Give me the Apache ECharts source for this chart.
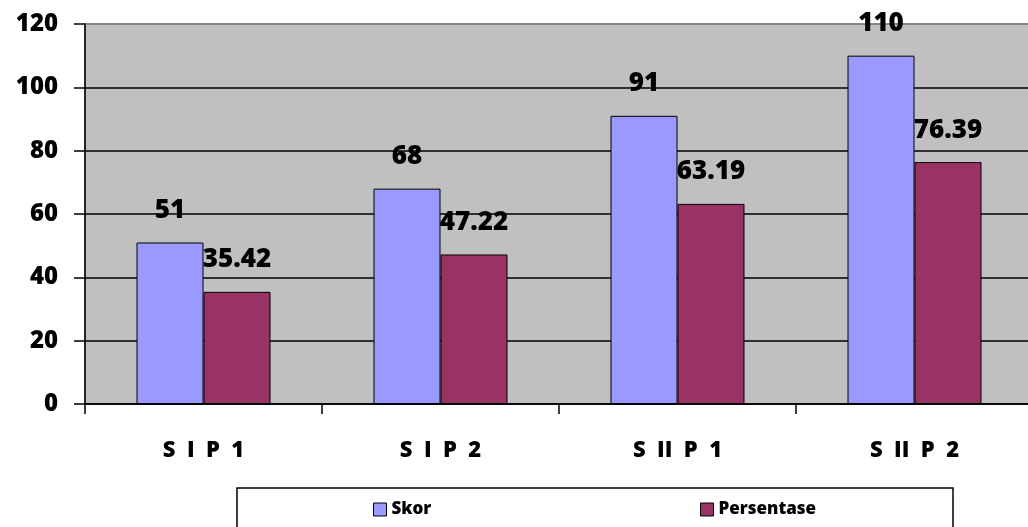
<!DOCTYPE html>
<html>
<head>
<meta charset="utf-8">
<script src="https://cdn.jsdelivr.net/npm/echarts@6/dist/echarts.min.js"></script>
<style>
html,body{margin:0;padding:0;background:#fff;}
#chart{width:1028px;height:527px;}
</style>
</head>
<body>
<div id="chart"></div>
<script>
const categories = ['S I P 1', 'S I P 2', 'S II P 1', 'S II P 2'];
const skor = [51, 68, 91, 110];
const persentase = [35.42, 47.22, 63.19, 76.39];
const seriesNames = ['Skor', 'Persentase'];
const yTicks = { min: 0, max: 120, interval: 20 };

const FONT = 'Open Sans';
const W = 800;
const chart = echarts.init(document.getElementById('chart'), null, { renderer: 'canvas' });

const labelStyle = {
  show: true,
  position: 'top',
  distance: 19,
  fontFamily: FONT,
  fontWeight: W,
  fontSize: 26,
  color: '#000'
};

chart.setOption({
  animation: false,
  backgroundColor: '#fff',
  grid: {
    left: 85, top: 24, width: 948, height: 380,
    outerBoundsMode: 'none',
    containLabel: false,
    show: true,
    backgroundColor: '#c0c0c0',
    borderColor: '#808080',
    borderWidth: 1.5
  },
  xAxis: {
    type: 'category',
    data: categories,
    axisLine: { show: true, lineStyle: { color: '#000', width: 1.5 } },
    axisTick: { show: true, length: 10, lineStyle: { color: '#000', width: 1.5 } },
    axisLabel: {
      margin: 36,
      fontFamily: FONT, fontWeight: W, fontSize: 22, color: '#000',
      formatter: function (v) { return v.split(' ').join('  '); }
    }
  },
  yAxis: {
    type: 'value',
    min: yTicks.min, max: yTicks.max, interval: yTicks.interval,
    axisLine: { show: true, lineStyle: { color: '#000', width: 1.5 } },
    axisTick: { show: true, length: 11, lineStyle: { color: '#000', width: 1.5 } },
    axisLabel: { margin: 27, fontFamily: FONT, fontWeight: W, fontSize: 24, color: '#000' },
    splitLine: { show: true, lineStyle: { color: ['#000', '#000', '#000', '#000', '#000', '#000', '#808080'], width: 1.5 } }
  },
  legend: [
    {
      data: [seriesNames[0]], left: 373, top: 501, padding: 0,
      icon: 'rect', itemWidth: 13, itemHeight: 13,
      itemStyle: { borderColor: '#000', borderWidth: 1 },
      textStyle: { fontFamily: FONT, fontWeight: W, fontSize: 17, color: '#000' }
    },
    {
      data: [seriesNames[1]], left: 700, top: 501, padding: 0,
      icon: 'rect', itemWidth: 13, itemHeight: 13,
      itemStyle: { borderColor: '#000', borderWidth: 1 },
      textStyle: { fontFamily: FONT, fontWeight: W, fontSize: 17, color: '#000' }
    }
  ],
  graphic: [{
    type: 'rect', z: -1,
    shape: { x: 237, y: 488, width: 716, height: 60 },
    style: { fill: '#fff', stroke: '#000', lineWidth: 1.5 }
  }],
  series: [
    {
      name: seriesNames[0], type: 'bar', data: skor,
      barWidth: 67, barGap: '0%',
      itemStyle: { color: '#9999ff', borderColor: '#000', borderWidth: 1 },
      label: labelStyle
    },
    {
      name: seriesNames[1], type: 'bar', data: persentase,
      barWidth: 67, barGap: '0%',
      itemStyle: { color: '#993366', borderColor: '#000', borderWidth: 1 },
      label: labelStyle
    }
  ]
});
</script>
</body>
</html>
